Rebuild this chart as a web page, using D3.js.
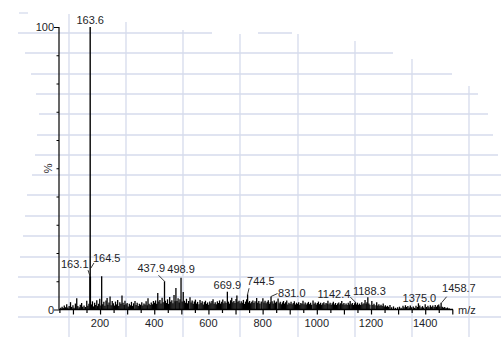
<!DOCTYPE html>
<html>
<head>
<meta charset="utf-8">
<script src="https://cdn.jsdelivr.net/npm/d3@7"></script>
<style>
html,body{margin:0;padding:0;background:#fff;}
svg{display:block;}
text{font-family:"Liberation Sans",Arial,sans-serif;font-size:11px;fill:#1e1e28;}
</style>
</head>
<body>
<svg id="chart" width="501" height="337"></svg>
<script>
// ---------- data ----------
const labeledMz   = [163.6, 163.1, 164.5, 437.9, 498.9, 669.9, 744.5, 831.0, 1142.4, 1188.3, 1375.0, 1458.7];
const labeledInt  = [100,   11.8,  11.5,  10.0,  11.2,  6.3,   5.4,   4.6,   2.6,    4.3,    2.2,    2.4];
const labelText   = ["163.6","163.1","164.5","437.9","498.9","669.9","744.5","831.0","1142.4","1188.3","1375.0","1458.7"];

const noisePeaks = [
[55,0.6],[60,1.0],[64,0.5],[68,1.4],[73,0.8],[77,1.9],[81,0.7],[86,1.2],[91,2.6],[95,0.9],[100,1.5],[104,0.6],[109,2.1],[114,4.0],[118,1.2],[123,0.8],[127,1.7],[132,2.3],[136,1.0],[141,1.4],[146,0.9],[151,3.1],[155,1.3],[159,2.0],
[168,1.8],[172,2.9],[176,1.1],[180,2.4],[184,1.6],[188,3.3],[191,1.2],[195,2.0],[199,3.8],[203,1.4],[206,11.8],[210,1.9],[214,2.7],[218,1.3],[222,3.2],[226,4.1],[229,1.7],[233,2.5],[237,4.6],[241,1.5],[245,3.0],[249,2.2],[253,1.4],[257,2.8],[261,1.8],[265,3.4],[269,1.2],[273,2.6],[277,2.0],[281,5.0],[285,2.4],[289,1.6],[292,3.1],[296,1.9],[300,2.3],[304,1.1],[308,2.0],[312,1.5],[316,2.7],[320,1.3],[324,2.2],[329,3.0],[333,1.6],[337,2.4],[341,1.2],[345,2.0],[349,1.7],[354,2.6],[358,1.4],[362,2.1],[366,1.8],[370,2.9],[374,1.5],[377,4.0],[381,2.0],[385,1.6],[389,2.5],[393,1.9],[397,3.0],
[401,2.4],[405,3.2],[409,2.0],[413,5.8],[417,2.8],[421,3.4],[425,2.1],[429,4.2],[433,2.6],[441,3.1],[445,2.3],[449,3.6],[453,2.0],[457,4.4],[461,2.7],[465,3.3],[469,2.2],[473,5.1],[477,2.9],[480,7.6],[484,3.0],[488,4.0],[492,2.5],[495,3.6],[503,2.8],[507,6.2],[511,3.1],[515,2.4],[519,3.8],[523,2.2],[527,3.0],[532,4.3],[536,2.5],[540,3.2],[544,2.0],[548,2.8],[552,3.5],[556,2.1],[560,2.7],[565,1.9],[569,3.4],[573,2.3],[577,2.9],[581,1.8],[585,2.6],[589,3.1],[593,2.0],[597,2.5],[601,1.7],[605,2.8],[609,2.2],[613,3.0],[617,3.6],[621,2.0],[625,2.6],[629,1.9],[633,2.9],[637,2.3],[641,3.2],[645,2.1],[649,2.7],[653,3.5],[657,2.2],[661,2.9],[665,2.4],[674,2.8],[678,2.1],[682,3.3],[686,4.2],[690,2.6],[694,3.0],[698,2.3],[702,3.7],[705,5.0],[709,2.7],[713,3.1],[717,2.2],[721,2.9],[725,2.4],[729,3.4],[733,2.0],[737,2.8],[741,3.6],[748,2.5],[752,3.0],[756,2.2],[760,2.7],
[764,3.2],[768,2.3],[772,2.9],[778,4.1],[782,2.4],[786,3.0],[790,2.1],[795,2.8],[801,4.0],[805,2.5],[809,3.1],[813,2.2],[817,2.7],[821,3.3],[825,2.0],[828,2.6],[835,2.9],[839,2.1],[843,3.2],[847,2.4],[851,2.8],[857,3.9],[861,2.2],[865,2.7],[869,1.9],[873,2.5],[877,3.0],[881,2.1],[885,2.6],[889,3.2],[893,1.8],[897,2.4],[901,2.0],[905,2.7],[909,1.9],[913,2.3],[917,2.9],[921,1.8],[925,2.4],[929,2.0],[933,2.6],[937,1.7],[941,2.3],[945,2.0],[949,3.1],[953,1.9],[957,2.5],[961,1.8],[965,2.2],[969,2.7],[973,1.9],[977,2.4],[981,1.7],[986,3.2],[990,2.0],[994,2.5],[998,1.8],[1002,2.3],[1006,2.8],[1010,1.9],[1014,2.4],[1018,1.7],[1022,2.2],[1026,2.6],[1030,1.8],[1034,2.3],[1038,2.0],[1041,3.1],[1045,1.9],[1049,2.4],[1053,1.7],[1057,2.2],[1061,2.7],[1065,1.8],[1069,2.3],[1073,1.6],[1077,2.1],[1081,2.5],[1085,1.8],[1088,2.2],[1092,3.0],[1096,1.9],[1100,2.3],
[1104,1.7],[1108,2.1],[1112,1.6],[1116,2.4],[1120,1.8],[1123,3.0],[1127,1.9],[1131,2.3],[1135,1.6],[1139,2.2],[1146,1.8],[1150,2.4],[1154,1.7],[1158,2.1],[1162,1.6],[1166,2.6],[1170,1.9],[1174,2.2],[1178,3.4],[1182,2.0],[1185,2.6],[1192,2.1],[1196,1.7],[1203,3.0],[1207,1.6],[1211,2.0],[1215,1.5],[1221,2.6],[1225,1.4],[1229,1.9],[1233,1.3],[1237,1.7],[1241,1.2],[1245,2.1],[1249,1.1],[1253,1.5],[1257,1.0],[1261,1.3],[1265,0.9],[1270,1.6],[1276,0.8],[1283,1.1],[1290,0.6],[1298,0.8],[1305,1.0],[1311,0.6],[1318,1.3],[1322,0.8],[1327,1.5],[1331,0.9],[1336,1.2],[1341,0.7],[1345,1.4],[1350,0.8],[1356,1.1],[1361,0.6],[1366,1.3],[1371,0.9],[1380,1.4],[1385,0.8],[1390,1.2],[1394,0.7],[1400,1.9],[1405,0.9],[1410,1.3],[1414,0.8],[1419,1.5],[1424,1.0],[1428,1.4],[1433,0.9],[1437,1.6],[1442,1.0],[1446,1.5],[1450,1.8],[1454,1.1],[1463,1.0],[1467,0.7],[1472,0.9],[1477,0.5],[1482,0.7],[1488,0.4]
];

const xTickLabels = [200, 400, 600, 800, 1000, 1200, 1400];
const yTickLabels = [0, 100];
const xAxisTitle = "m/z";
const yAxisTitle = "%";

// ---------- layout (styles/positions) ----------
// label placement relative to peak top: [dx, dy, anchor, leaderFrom, leaderTo]
const labelLayout = [
  [0, -3, "middle", null, null],
  [-1.5, -8, "end", [-2,-6], [0,0]],
  [2.5, -15, "start", [3.5,-14], [0.5,-9]],
  [0.5, -9, "end", [-6,-6], [0,0]],
  [0, -5, "middle", null, null],
  [0, -3, "middle", null, null],
  [-0.5, -9, "start", [1.5,-6], [0,0]],
  [7, 0.5, "start", [6.5,-3], [0,0]],
  [-5, -4, "end", [-5,-5], [0,0]],
  [1.5, -2.5, "middle", null, null],
  [1, -1.5, "middle", null, null],
  [1, -10.5, "start", [5.5,-6], [0.5,0]]
];

// background grid (decoration)
const gridH = [[13,19,28],[33,18,212],[33,258,292],[53,25,393],[74,31,452],[94,36,478],[114,39,488],[135,37,493],[155,35,498],[175,32,501],[195,27,501],[216,25,501],[236,23,501],[257,20,501],[277,18,501],[297,18,501],[317,18,501]];
const gridV = [[69,14],[126,22],[183,30],[240,34],[298,34],[355,41],[412,59],[469,86]];

const svg = d3.select("#chart");
const x = d3.scaleLinear().domain([50, 1500]).range([59.4, 452.3]);
const y = d3.scaleLinear().domain([0, 100]).range([309.5, 27]);

// grid
const g0 = svg.append("g").attr("stroke", "#d6dbec").attr("stroke-width", 1.3);
g0.selectAll("line.h").data(gridH).join("line").attr("class","h")
  .attr("x1", d => d[1]).attr("x2", d => d[2]).attr("y1", d => d[0]).attr("y2", d => d[0]);
g0.selectAll("line.v").data(gridV).join("line").attr("class","v")
  .attr("x1", d => d[0]).attr("x2", d => d[0]).attr("y1", d => d[1]).attr("y2", 337);

// spectrum sticks
const sticks = svg.append("g").attr("stroke", "#000");
sticks.selectAll("line.n").data(noisePeaks).join("line").attr("class","n")
  .attr("x1", d => x(d[0])).attr("x2", d => x(d[0]))
  .attr("y1", y(0)).attr("y2", d => y(d[1])).attr("stroke-width", 1.3);
const lab = labeledMz.map((m, i) => ({mz: m, v: labeledInt[i], t: labelText[i], L: labelLayout[i]}));
sticks.selectAll("line.p").data(lab).join("line").attr("class","p")
  .attr("x1", d => x(d.mz)).attr("x2", d => x(d.mz))
  .attr("y1", y(0)).attr("y2", d => y(d.v)).attr("stroke-width", d => d.v > 50 ? 1.4 : 1.3);

// labels and leaders
svg.append("g").selectAll("text").data(lab).join("text")
  .attr("x", d => x(d.mz) + d.L[0]).attr("y", d => y(d.v) + d.L[1])
  .attr("text-anchor", d => d.L[2]).text(d => d.t);
svg.append("g").attr("stroke", "#222").attr("stroke-width", 0.9)
  .selectAll("line").data(lab.filter(d => d.L[3])).join("line")
  .attr("x1", d => x(d.mz) + d.L[3][0]).attr("y1", d => y(d.v) + d.L[3][1])
  .attr("x2", d => x(d.mz) + d.L[4][0]).attr("y2", d => y(d.v) + d.L[4][1]);

// x axis
const xa = svg.append("g").attr("transform", `translate(0,${y(0)})`);
xa.call(d3.axisBottom(x).tickValues(d3.range(50, 1501, 50)).tickSize(4).tickFormat(""))
  .call(g => g.select(".domain").attr("stroke","#000").attr("stroke-width",1.5).attr("d", `M59,0H453`))
  .call(g => g.selectAll(".tick line").attr("stroke","#000").attr("stroke-width",1.2).attr("y2", d => d % 100 === 0 ? 5 : 3.5));
xa.selectAll("text.xl").data(xTickLabels).join("text").attr("class","xl")
  .attr("x", d => x(d)).attr("y", 17).attr("text-anchor","middle").text(d => d);
svg.append("text").attr("x", 458).attr("y", 314).text(xAxisTitle);

// y axis
const ya = svg.append("g").attr("transform", "translate(59,0)");
ya.call(d3.axisLeft(y).tickValues(d3.range(0, 101, 10)).tickSize(2).tickFormat(""))
  .call(g => g.select(".domain").attr("stroke","#000").attr("stroke-width",1.2).attr("d", `M0,${y(0)}V${y(100)}`))
  .call(g => g.selectAll(".tick line").attr("stroke","#000").attr("x2", d => (d === 0 || d === 100) ? -5 : -2.5));
ya.selectAll("text.yl").data(yTickLabels).join("text").attr("class","yl")
  .attr("x", -5).attr("y", d => y(d) + 4).attr("text-anchor","end").text(d => d);
svg.append("text").attr("transform", `translate(52,${y(50)}) rotate(-90)`)
  .attr("text-anchor","middle").text(yAxisTitle);
</script>
</body>
</html>
